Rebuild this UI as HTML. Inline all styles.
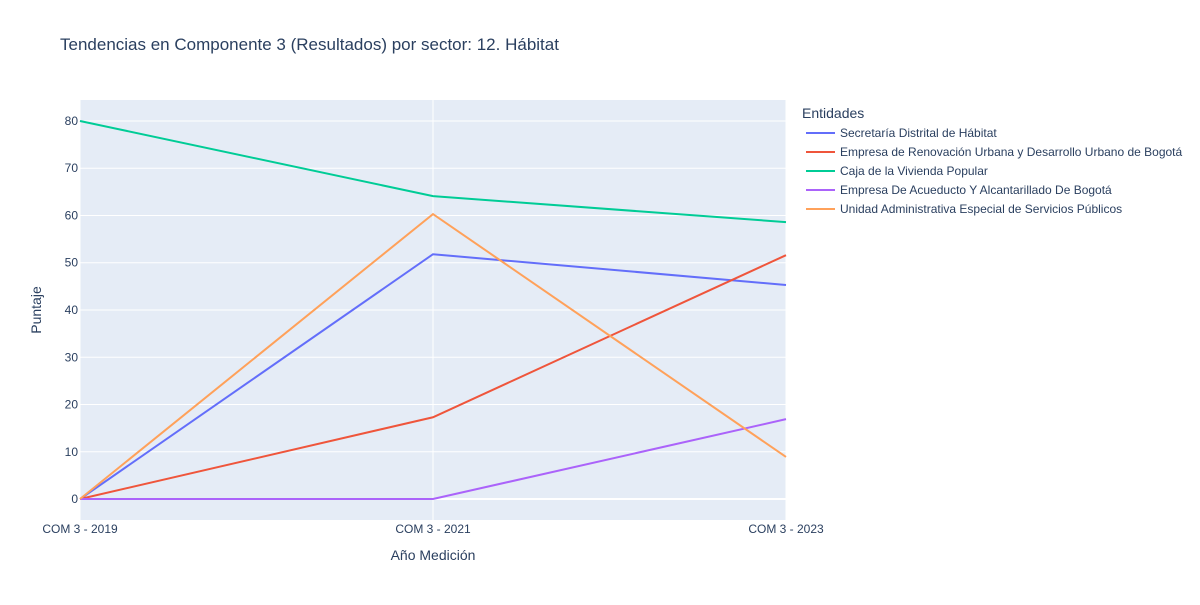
<!DOCTYPE html>
<html><head><meta charset="utf-8"><style>
body{margin:0;background:#fff;font-family:"Liberation Sans",Arial,sans-serif;}
svg text{font-family:"Liberation Sans",Arial,sans-serif;}
</style></head><body>
<svg id="chart" width="1200" height="600" xmlns="http://www.w3.org/2000/svg">
<rect width="1200" height="600" fill="#fff"/>
<text x="60" y="50" font-size="17" fill="#2a3f5f">Tendencias en Componente 3 (Resultados) por sector: 12. Hábitat</text>
<rect x="80" y="100" width="706" height="420" fill="#e5ecf6"/>
<g id="grid"></g><g id="series"></g><g id="axes"></g>
<text x="433" y="560" font-size="14" fill="#2a3f5f" text-anchor="middle">Año Medición</text>
<text x="41" y="310" font-size="14" fill="#2a3f5f" text-anchor="middle" transform="rotate(-90 41 310)">Puntaje</text>
<text x="802" y="118" font-size="14" fill="#2a3f5f">Entidades</text>
<g id="legend"></g>
</svg>
<script>
const categories=["COM 3 - 2019","COM 3 - 2021","COM 3 - 2023"];
const seriesNames=["Secretaría Distrital de Hábitat","Empresa de Renovación Urbana y Desarrollo Urbano de Bogotá","Caja de la Vivienda Popular","Empresa De Acueducto Y Alcantarillado De Bogotá","Unidad Administrativa Especial de Servicios Públicos"];
const s1=[0,51.8,45.3];
const s2=[0,17.3,51.6];
const s3=[80,64.1,58.6];
const s4=[0,0,16.9];
const s5=[0,60.3,8.9];
const yTicks=[0,10,20,30,40,50,60,70,80];
const colors=["#636efa","#EF553B","#00cc96","#ab63fa","#FFA15A"];
const allSeries=[s1,s2,s3,s4,s5];
const NS="http://www.w3.org/2000/svg";
const x=i=>80+i*(706/(categories.length-1));
const yMin=-4.44,yMax=84.44;
const y=v=>520-(v-yMin)/(yMax-yMin)*420;
function mk(t,a,p){const e=document.createElementNS(NS,t);for(const k in a)e.setAttribute(k,a[k]);p.appendChild(e);return e;}
const grid=document.getElementById('grid'),axes=document.getElementById('axes'),ser=document.getElementById('series'),leg=document.getElementById('legend');
yTicks.forEach(t=>{
 const l=mk('line',{x1:80,x2:786,y1:y(t),y2:y(t),stroke:'#fff','stroke-width':t===0?2:1},grid);
 
 
 const tx=mk('text',{x:79-0,y:y(t)+4,'font-size':12,fill:'#2a3f5f','text-anchor':'end'},axes);
 tx.setAttribute('x',78);tx.textContent=t;
 
 
});
categories.forEach((c,i)=>{
 const l=mk('line',{x1:x(i),x2:x(i),y1:100,y2:520,stroke:'#fff','stroke-width':1},grid);
 
 
 const tx=mk('text',{x:x(i),y:533,'font-size':12,fill:'#2a3f5f','text-anchor':'middle'},axes);
 tx.textContent=c;
 
 
});
allSeries.forEach((s,k)=>{
 const p=mk('polyline',{points:s.map((v,i)=>x(i)+','+y(v)).join(' '),fill:'none',stroke:colors[k],'stroke-width':2},ser);
 
 
 const ly=133+k*19;
 const ll=mk('line',{x1:806,x2:835,y1:ly,y2:ly,stroke:colors[k],'stroke-width':2},leg);
 
 
 const lt=mk('text',{x:840,y:ly+4,'font-size':12,fill:'#2a3f5f'},leg);
 lt.textContent=seriesNames[k];
 
 
});
</script>
</body></html>
